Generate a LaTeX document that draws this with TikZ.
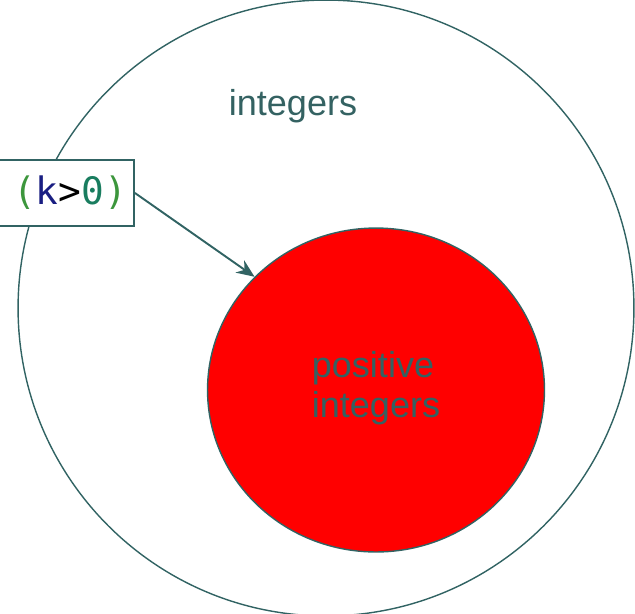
\documentclass[tikz,border=0pt]{standalone}
\usepackage{fontspec}
\setmainfont{Liberation Sans}
\setmonofont{DejaVu Sans Mono}
\usepackage{xcolor}
\usetikzlibrary{shapes.geometric, arrows.meta, positioning}
\definecolor{tealline}{RGB}{49,99,99}
\definecolor{textteal}{RGB}{52,98,98}
\definecolor{codegreen}{RGB}{60,150,60}
\definecolor{codeblue}{RGB}{25,30,130}
\definecolor{codezero}{RGB}{25,125,95}

\begin{document}
\begin{tikzpicture}[
    x=0.02cm, y=-0.02cm,
    set/.style={circle, draw=tealline, line width=0.8pt, minimum size=12.32cm},
    subset/.style={ellipse, draw=tealline, line width=0.8pt, fill=red, minimum width=6.74cm, minimum height=6.48cm},
    label/.style={text=textteal, font=\fontsize{20.5}{23}\selectfont, align=left},
    cond/.style={rectangle, draw=tealline, line width=1.1pt, fill=white, minimum width=2.76cm, minimum height=1.32cm, font=\ttfamily\fontsize{21.5}{24}\selectfont},
    arrow/.style={-{Stealth[length=0.36cm, width=0.3cm]}, draw=tealline, fill=tealline, line width=1.1pt}
]
    \useasboundingbox (0,0) rectangle (635,613);
    \node[set] (ints) at (326,308) {};
    \node[label] (intslabel) at (293,106) {integers};
    \node[subset] (pos) at (376,390) {};
    \node[label] (poslabel) at (376,388) {positive\\integers};
    \node[cond] (kcond) at (65,193) {\hspace*{0.2cm}\textcolor{codegreen}{(}\textcolor{codeblue}{k}\textcolor{black}{>}\textcolor{codezero}{0}\textcolor{codegreen}{)}};

    \draw[arrow] (kcond.east) -- (pos.137);
\end{tikzpicture}
\end{document}
